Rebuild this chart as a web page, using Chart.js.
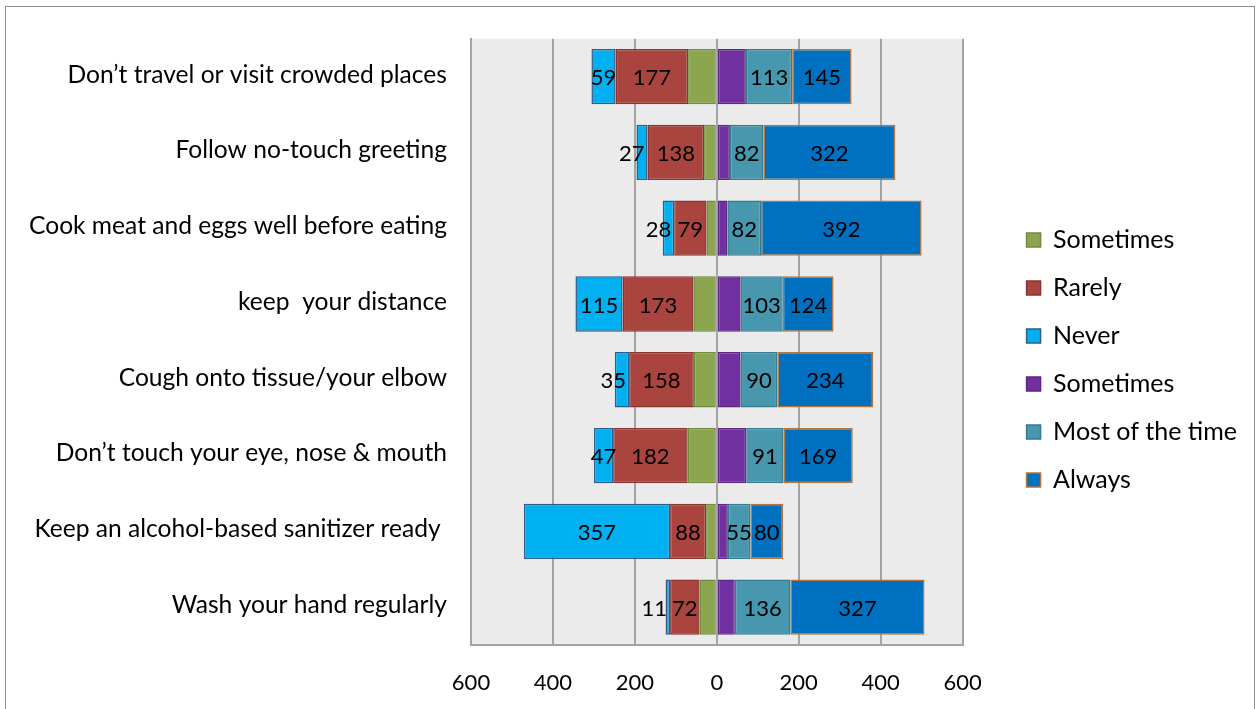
<!DOCTYPE html>
<html>
<head>
<meta charset="utf-8">
<script src="https://cdn.jsdelivr.net/npm/chart.js@4.4.1/dist/chart.umd.min.js"></script>
<style>
  html, body { margin: 0; padding: 0; background: #fff; }
  #wrap { position: relative; width: 1260px; height: 709px; }
  #frame { position: absolute; left: 5px; top: 6px; width: 1248px; height: 720px; border: 1.5px solid #8e8e8e; pointer-events: none; }
</style>
</head>
<body>
<div id="wrap">
  <canvas id="myChart" width="1260" height="709"></canvas>
  <div id="frame"></div>
</div>
<script>
const categories = [
	"Don\u2019t travel or visit crowded places",
	"Follow no-touch greeting",
	"Cook meat and eggs well before eating",
	"keep  your distance",
	"Cough onto tissue/your elbow",
	"Don\u2019t touch your eye, nose & mouth",
	"Keep an alcohol-based sanitizer ready ",
	"Wash your hand regularly"
];
// left side (drawn as negative)
const sometimesLeft = [70, 31, 25, 57, 56, 71, 26, 42];
const rarely = [177, 138, 79, 173, 158, 182, 88, 72];
const never = [59, 27, 28, 115, 35, 47, 357, 11];
// right side
const sometimesRight = [71, 32, 26, 58, 58, 72, 27, 44];
const mostOfTheTime = [113, 82, 82, 103, 90, 91, 55, 136];
const always = [145, 322, 392, 124, 234, 169, 80, 327];
const xTicks = [-600, -400, -200, 0, 200, 400, 600];

const font = "Lato";

// light grey plot area
const plotBg = {
	id: 'plotBg',
	beforeDraw(chart) {
		const a = chart.chartArea, ctx = chart.ctx;
		ctx.save();
		ctx.fillStyle = '#ebebeb';
		ctx.fillRect(a.left, a.top, a.right - a.left, a.bottom - a.top);
		ctx.restore();
	}
};

// value labels in the middle of each segment
const barLabels = {
	id: 'barLabels',
	afterDatasetsDraw(chart) {
		const ctx = chart.ctx;
		ctx.save();
		ctx.font = '22px ' + font;
		ctx.fillStyle = '#000';
		ctx.textBaseline = 'middle';
		chart.data.datasets.forEach((ds, i) => {
			if (!ds.showValues) return;
			chart.getDatasetMeta(i).data.forEach((bar, j) => {
				const p = bar.getProps(['x', 'y', 'base'], true);
				const txt = String(Math.abs(ds.data[j]));
				const w = ctx.measureText(txt).width;
				const segW = Math.abs(p.x - p.base);
				// very narrow outer segments on the left: push the text outwards
				if (ds.outer && w > segW + 8) {
					ctx.textAlign = 'right';
					ctx.fillText(txt, Math.max(p.x, p.base) - 3, p.y + 1.5);
				} else {
					ctx.textAlign = 'center';
					ctx.fillText(txt, (p.x + p.base) / 2, p.y + 1.5);
				}
			});
		});
		ctx.restore();
	}
};

const neg = arr => arr.map(v => -v);

function draw() {
	var ctx = document.getElementById('myChart').getContext('2d');
	var myChart = new Chart(ctx, {
		type: 'bar',
		data: {
			labels: categories,
			datasets: [
				{ label: 'Sometimes', data: neg(sometimesLeft), backgroundColor: '#8ba64f', borderColor: '#6f8a3c', showValues: false },
				{ label: 'Rarely', data: neg(rarely), backgroundColor: '#a9443f', borderColor: '#8a3431', showValues: true },
				{ label: 'Never', data: neg(never), backgroundColor: '#00b0f0', borderColor: '#2f5d8a', showValues: true, outer: true },
				{ label: 'Sometimes', data: sometimesRight, backgroundColor: '#7030a0', borderColor: '#5a2682', showValues: false },
				{ label: 'Most of the time', data: mostOfTheTime, backgroundColor: '#4797ae', borderColor: '#357a8f', showValues: true },
				{ label: 'Always', data: always, backgroundColor: '#0070c0', borderColor: '#b8743c', showValues: true }
			]
		},
		options: {
			indexAxis: 'y',
			responsive: false,
			animation: false,
			devicePixelRatio: 1,
			layout: { padding: { top: 11, left: 0, right: 13, bottom: 0 } },
			datasets: {
				bar: {
					stack: 'all',
					borderWidth: 1.5,
					borderSkipped: false,
					barPercentage: 0.73,
					categoryPercentage: 1
				}
			},
			scales: {
				x: {
					stacked: true,
					min: -600,
					max: 600,
					afterBuildTicks: s => { s.ticks = xTicks.map(v => ({ value: v })); },
					afterFit: s => { s.height = 64; },
					grid: { color: '#a3a3a3', lineWidth: 2, drawTicks: false },
					border: { display: true, color: '#a3a3a3', width: 2 },
					ticks: {
						padding: 25,
						color: '#000',
						font: { family: font, size: 22 },
						callback: v => Math.abs(v)
					}
				},
				topGap: {
					position: 'top',
					axis: 'x',
					display: false,
					afterFit: s => { s.height = 24; }
				},
				y: {
					stacked: true,
					afterFit: s => { s.width = 471; },
					grid: { display: false, drawTicks: false },
					border: { display: true, color: '#a3a3a3', width: 2 },
					ticks: {
						padding: 24,
						labelOffset: -2,
						color: '#000',
						font: { family: font, size: 24.6 }
					}
				},
				gap: {
					position: 'right',
					axis: 'y',
					display: false,
					afterFit: s => { s.width = 41; }
				}
			},
			plugins: {
				legend: {
					position: 'right',
					labels: {
						boxWidth: 14,
						boxHeight: 14,
						padding: 23,
						color: '#000',
						font: { family: font, size: 25 }
					}
				},
				tooltip: { enabled: false }
			}
		},
		plugins: [plotBg, barLabels]
	});
}

Promise.all([
	document.fonts.load('22px Lato'),
	document.fonts.load('25px Lato')
]).then(draw, draw);
</script>
</body>
</html>
